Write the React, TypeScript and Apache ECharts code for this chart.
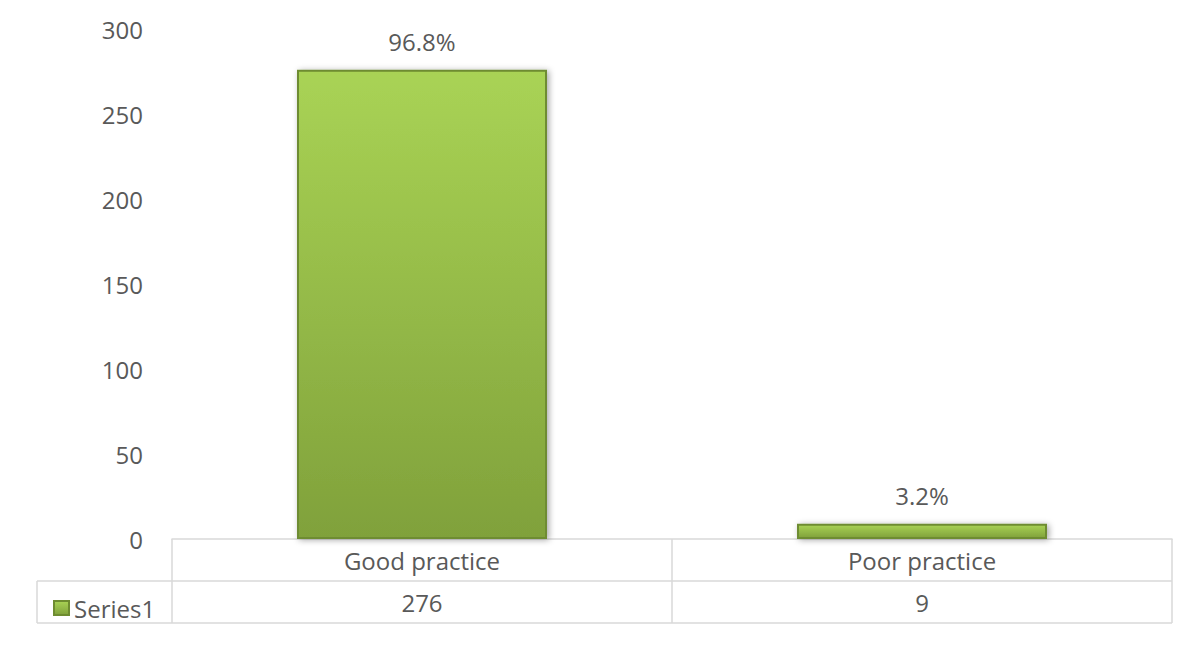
import { useEffect, useRef } from "react";
import * as echarts from "echarts";

const categories = ["Good practice", "Poor practice"];
const counts = [276, 9];
const seriesName = "Series1";
const yTicks = { min: 0, max: 300, interval: 50 };

const GRID = { left: 172, right: 29, top: 29, bottom: 112 };
const ROW_H = 42;
const TABLE_LEFT = 37;
const LINE = "#d9d9d9";
const TEXT = "#595959";
const FONT = "Open Sans";
const FS = 24;

export default function App() {
  const ref = useRef<HTMLDivElement>(null);

  useEffect(() => {
    document.body.style.margin = "0";
    const el = ref.current;
    if (!el) return;
    const chart = echarts.init(el, undefined, { renderer: "svg" });
    const total = counts.reduce((a, b) => a + b, 0);
    const W = 1201;
    const H = 651;
    const axisY = H - GRID.bottom;
    const right = W - GRID.right;

    // vertical shading, light lime on top fading to olive at the base
    const barColor = new echarts.graphic.LinearGradient(0, 0, 0, 1, [
      { offset: 0, color: "#a9d355" },
      { offset: 1, color: "#80a13b" },
    ]);

    chart.setOption({
      animation: false,
      backgroundColor: "#ffffff",
      textStyle: { fontFamily: FONT },
      grid: { ...GRID, containLabel: false },
      legend: {
        data: [seriesName],
        left: 48,
        top: axisY + ROW_H + 10,
        icon: "rect",
        itemWidth: 15,
        itemHeight: 14,
        textStyle: { fontSize: FS, color: TEXT, fontFamily: FONT },
      },
      xAxis: {
        type: "category",
        data: categories,
        axisLine: { show: true, lineStyle: { color: LINE, width: 1.5 } },
        axisTick: {
          show: true,
          alignWithLabel: false,
          interval: 0,
          length: ROW_H * 2,
          lineStyle: { color: LINE, width: 1.5 },
        },
        axisLabel: {
          margin: 0,
          interval: 0,
          formatter: (v: string, i: number) => `{c|${v}}\n{c|${counts[i]}}`,
          rich: {
            c: { fontSize: FS, color: TEXT, fontFamily: FONT, lineHeight: ROW_H },
          },
        },
      },
      yAxis: {
        type: "value",
        min: yTicks.min,
        max: yTicks.max,
        interval: yTicks.interval,
        axisLine: { show: false },
        axisTick: { show: false },
        splitLine: { show: false },
        axisLabel: { fontSize: FS, color: TEXT, fontFamily: FONT, margin: 29 },
      },
      series: [
        {
          name: seriesName,
          type: "bar",
          data: counts,
          barWidth: "50%",
          itemStyle: {
            color: barColor,
            borderColor: "#6e8c30",
            borderWidth: 2,
            shadowBlur: 6,
            shadowOffsetX: 2,
            shadowOffsetY: 1,
            shadowColor: "rgba(0,0,0,0.35)",
          },
          label: {
            show: true,
            position: "top",
            distance: 16,
            fontSize: FS,
            color: TEXT,
            fontFamily: FONT,
            formatter: (p: { value: number }) => `${((p.value / total) * 100).toFixed(1)}%`,
          },
        },
      ],
      // data-table rows that extend under the legend column
      graphic: [
        {
          type: "line",
          shape: { x1: TABLE_LEFT, y1: axisY + ROW_H, x2: right, y2: axisY + ROW_H },
          style: { stroke: LINE, lineWidth: 1.5 },
          silent: true,
        },
        {
          type: "line",
          shape: { x1: TABLE_LEFT, y1: axisY + ROW_H * 2, x2: right, y2: axisY + ROW_H * 2 },
          style: { stroke: LINE, lineWidth: 1.5 },
          silent: true,
        },
        {
          type: "line",
          shape: { x1: TABLE_LEFT, y1: axisY + ROW_H, x2: TABLE_LEFT, y2: axisY + ROW_H * 2 },
          style: { stroke: LINE, lineWidth: 1.5 },
          silent: true,
        },
      ],
    });

    return () => chart.dispose();
  }, []);

  return <div ref={ref} style={{ width: 1201, height: 651 }} />;
}
